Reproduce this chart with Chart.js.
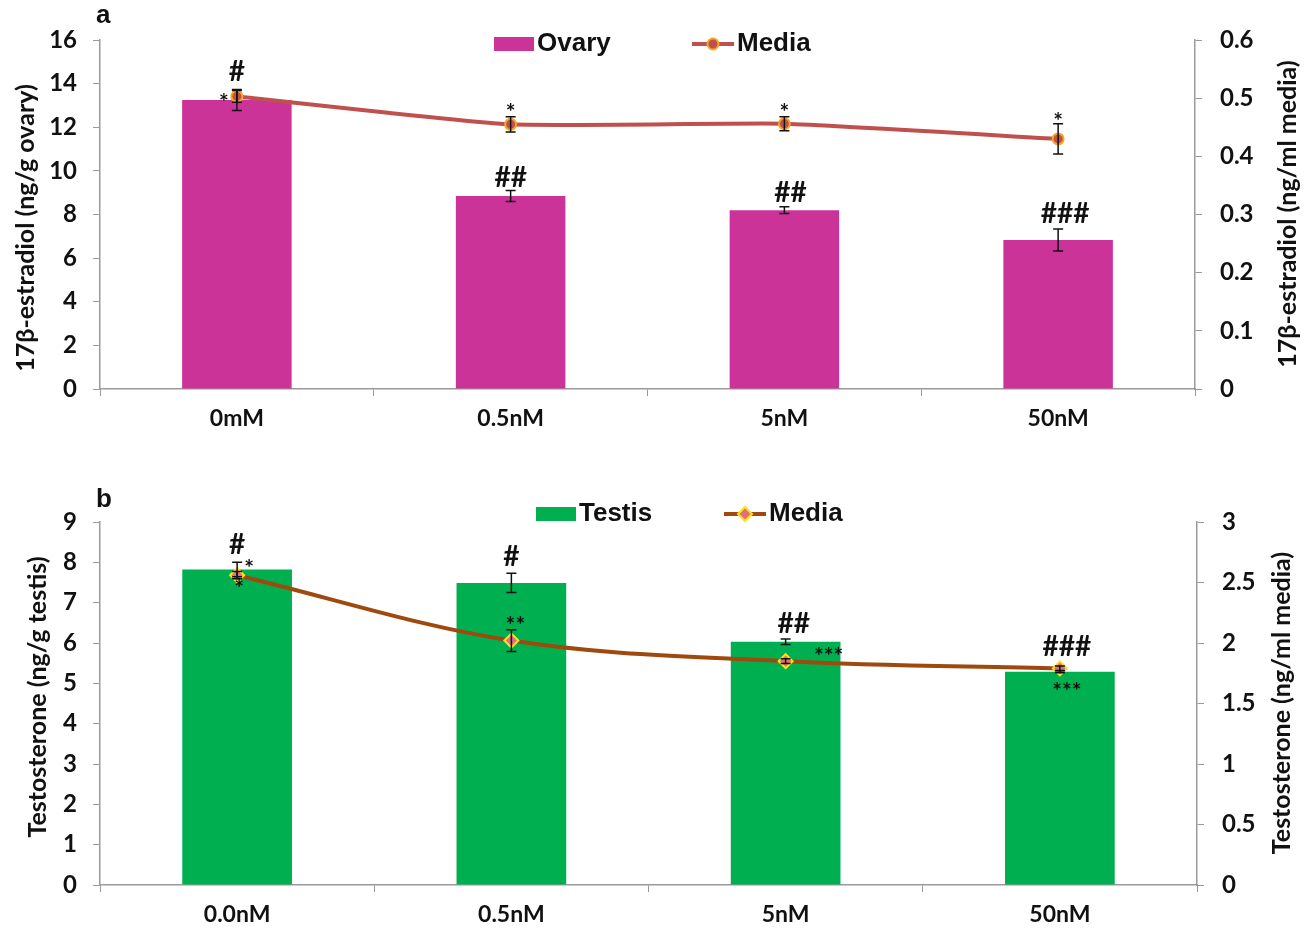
<!DOCTYPE html>
<html>
<head>
<meta charset="utf-8">
<script src="https://cdn.jsdelivr.net/npm/chart.js@4.4.1/dist/chart.umd.min.js"></script>
<style>
  html, body { margin: 0; padding: 0; background: #fff; }
  .panel { position: absolute; left: 0; }
  #panelA { top: 0; }
  #panelB { top: 460px; }
</style>
</head>
<body>
<div class="panel" id="panelA"><canvas id="chartA" width="1308" height="440"></canvas></div>
<div class="panel" id="panelB"><canvas id="chartB" width="1308" height="469"></canvas></div>
<script>
// Panel a: 17b-estradiol in ovary tissue (bars) and culture media (line)
const doseA = ['0mM', '0.5nM', '5nM', '50nM'];
const ovary = [13.25, 8.85, 8.2, 6.83];
const ovaryErr = [0.48, 0.25, 0.15, 0.5];
const mediaA = [0.503, 0.455, 0.456, 0.43];
const mediaAErr = [0.01, 0.013, 0.012, 0.026];
const ovaryMarks = ['#', '##', '##', '###'];
const mediaAMarks = ['*', '*', '*', '*'];

// Panel b: testosterone in testis tissue (bars) and culture media (line)
const doseB = ['0.0nM', '0.5nM', '5nM', '50nM'];
const testis = [7.82, 7.49, 6.03, 5.29];
const testisErr = [0.18, 0.24, 0.07, 0.03];
const mediaB = [2.56, 2.02, 1.85, 1.79];
const mediaBErr = [0.03, 0.09, 0.02, 0.02];
const testisMarks = ['#', '#', '##', '###'];
const mediaBMarks = ['*', '**', '***', '***'];

const TICK_FONT = { family: 'Lato', size: 24, weight: 'bold' };
const AXIS_GREY = '#9a9a9a';

// error bars + significance marks + legend + axis titles, all drawn on top
const extrasPlugin = {
  id: 'extras',
  afterDatasetsDraw(chart, args, opts) {
    const ctx = chart.ctx;
    const xs = chart.scales.x;
    ctx.save();
    // error bars
    opts.errors.forEach(e => {
      const ys = chart.scales[e.axis];
      e.values.forEach((v, i) => {
        const x = xs.getPixelForValue(i);
        const top = ys.getPixelForValue(v + e.err[i]);
        const bot = ys.getPixelForValue(v - e.err[i]);
        ctx.strokeStyle = '#111';
        ctx.lineWidth = 1.5;
        ctx.beginPath();
        ctx.moveTo(x, top); ctx.lineTo(x, bot);
        ctx.moveTo(x - 5, top); ctx.lineTo(x + 5, top);
        ctx.moveTo(x - 5, bot); ctx.lineTo(x + 5, bot);
        ctx.stroke();
      });
    });
    // significance marks, placed relative to the value (plus error) pixel
    opts.marks.forEach(m => {
      const ys = chart.scales[m.axis];
      const v = m.values[m.i] + (m.useErr ? m.err[m.i] : 0);
      const x = xs.getPixelForValue(m.i) + m.dx;
      const y = ys.getPixelForValue(v) + m.dy;
      const star = m.text.indexOf('*') >= 0;
      ctx.font = star ? 'bold 23px Lato' : 'bold 28px Lato';
      ctx.fillStyle = '#111';
      ctx.textAlign = 'center';
      ctx.textBaseline = 'middle';
      ctx.fillText(m.text, x, y + (star ? 6 : 0));
    });
    // legend
    const lg = opts.legend;
    ctx.font = 'bold 26px "Liberation Sans"';
    ctx.textAlign = 'left';
    ctx.textBaseline = 'middle';
    ctx.fillStyle = lg.barColor;
    ctx.fillRect(lg.barX, lg.y - 7, 40, 14);
    ctx.fillStyle = '#111';
    ctx.fillText(lg.barText, lg.barX + 43, lg.y);
    ctx.strokeStyle = lg.lineColor;
    ctx.lineWidth = 4;
    ctx.beginPath();
    ctx.moveTo(lg.lineX, lg.y); ctx.lineTo(lg.lineX + 42, lg.y);
    ctx.stroke();
    drawMarker(ctx, lg.marker, lg.lineX + 21, lg.y);
    ctx.fillStyle = '#111';
    ctx.fillText(lg.lineText, lg.lineX + 45, lg.y);
    // panel letter
    ctx.font = 'bold 26px "Liberation Sans"';
    ctx.fillText(opts.letter, 96, opts.letterY);
    // axis titles, both reading bottom to top
    ctx.font = 'bold 25px Lato';
    ctx.textAlign = 'center';
    opts.titles.forEach(t => {
      ctx.save();
      ctx.translate(t.x, t.y);
      ctx.rotate(-Math.PI / 2);
      ctx.fillText(t.text, 0, 0);
      ctx.restore();
    });
    ctx.restore();
  }
};

function drawMarker(ctx, m, x, y) {
  ctx.save();
  ctx.fillStyle = m.fill;
  ctx.strokeStyle = m.border;
  ctx.lineWidth = 2;
  ctx.beginPath();
  if (m.style === 'rectRot') {
    ctx.moveTo(x, y - 7); ctx.lineTo(x + 7, y); ctx.lineTo(x, y + 7); ctx.lineTo(x - 7, y);
    ctx.closePath();
  } else {
    ctx.arc(x, y, 5.5, 0, Math.PI * 2);
  }
  ctx.fill();
  ctx.stroke();
  ctx.restore();
}

// 0.50 -> "0.5", 3.0 -> "3", 0 -> "0"
const plainNumber = v => String(Number(v.toFixed(2)));

function makeChart(canvasId, cfg) {
  const ctx = document.getElementById(canvasId).getContext('2d');
  return new Chart(ctx, {
    type: 'bar',
    data: {
      labels: cfg.labels,
      datasets: [
        {
          type: 'line',
          label: 'Media',
          data: cfg.line,
          yAxisID: 'y1',
          borderColor: cfg.lineColor,
          borderWidth: 4,
          tension: cfg.tension,
          pointStyle: cfg.marker.style,
          pointRadius: cfg.marker.style === 'rectRot' ? 7 : 5.5,
          pointBackgroundColor: cfg.marker.fill,
          pointBorderColor: cfg.marker.border,
          pointBorderWidth: 2,
          order: 0
        },
        {
          label: cfg.barLabel,
          data: cfg.bars,
          yAxisID: 'y',
          backgroundColor: cfg.barColor,
          barPercentage: 0.4,
          categoryPercentage: 1,
          order: 1
        }
      ]
    },
    options: {
      responsive: false,
      animation: false,
      layout: { padding: { top: cfg.top, left: 0, right: 0, bottom: 0 } },
      plugins: {
        legend: { display: false },
        tooltip: { enabled: false },
        extras: cfg.extras
      },
      scales: {
        x: {
          afterFit: s => { s.height = cfg.xHeight; },
          grid: { drawOnChartArea: false, offset: true, color: AXIS_GREY, tickLength: 7 },
          border: { color: AXIS_GREY, width: 1.5 },
          ticks: { font: { family: 'Lato', size: 23, weight: 'bold' }, color: '#111', padding: 9 }
        },
        y: {
          position: 'left',
          min: 0, max: cfg.yMax,
          afterFit: s => { s.width = 100; },
          grid: { drawOnChartArea: false, color: AXIS_GREY, tickLength: 7 },
          border: { color: AXIS_GREY, width: 1.5 },
          ticks: { stepSize: cfg.yStep, font: TICK_FONT, color: '#111', padding: 16, callback: plainNumber }
        },
        y1: {
          position: 'right',
          min: 0, max: cfg.y1Max,
          afterFit: s => { s.width = cfg.rightWidth; },
          grid: { drawOnChartArea: false, color: AXIS_GREY, tickLength: 7 },
          border: { color: AXIS_GREY, width: 1.5 },
          ticks: { stepSize: cfg.y1Step, font: TICK_FONT, color: '#111', padding: 18, callback: plainNumber }
        }
      }
    },
    plugins: [extrasPlugin]
  });
}

const markerA = { style: 'circle', fill: '#C0504D', border: '#F5A623' };
const markerB = { style: 'rectRot', fill: '#E0707A', border: '#FFE11A' };

makeChart('chartA', {
  labels: doseA, bars: ovary, line: mediaA, barLabel: 'Ovary',
  barColor: '#CC3399', lineColor: '#C0504D', marker: markerA, tension: 0.15,
  top: 40, xHeight: 51, rightWidth: 113,
  yMax: 16, yStep: 2, y1Max: 0.6, y1Step: 0.1,
  extras: {
    errors: [
      { axis: 'y', values: ovary, err: ovaryErr },
      { axis: 'y1', values: mediaA, err: mediaAErr }
    ],
    marks: [
      { text: ovaryMarks[0], axis: 'y', values: ovary, err: ovaryErr, useErr: true, i: 0, dx: 0, dy: -18 },
      { text: ovaryMarks[1], axis: 'y', values: ovary, err: ovaryErr, useErr: true, i: 1, dx: 0, dy: -13 },
      { text: ovaryMarks[2], axis: 'y', values: ovary, err: ovaryErr, useErr: true, i: 2, dx: 6, dy: -14 },
      { text: ovaryMarks[3], axis: 'y', values: ovary, err: ovaryErr, useErr: true, i: 3, dx: 7, dy: -15 },
      { text: mediaAMarks[0], axis: 'y1', values: mediaA, err: mediaAErr, useErr: false, i: 0, dx: -13, dy: 0 },
      { text: mediaAMarks[1], axis: 'y1', values: mediaA, err: mediaAErr, useErr: true, i: 1, dx: 0, dy: -10 },
      { text: mediaAMarks[2], axis: 'y1', values: mediaA, err: mediaAErr, useErr: true, i: 2, dx: 0, dy: -10 },
      { text: mediaAMarks[3], axis: 'y1', values: mediaA, err: mediaAErr, useErr: true, i: 3, dx: 0, dy: -8 }
    ],
    legend: { y: 44, barX: 494, barText: 'Ovary', barColor: '#CC3399', lineX: 692, lineText: 'Media', lineColor: '#C0504D', marker: markerA },
    letter: 'a', letterY: 16,
    titles: [
      { text: '17β-estradiol (ng/g ovary)', x: 26, y: 228 },
      { text: '17β-estradiol (ng/ml media)', x: 1288, y: 214 }
    ]
  }
});

makeChart('chartB', {
  labels: doseB, bars: testis, line: mediaB, barLabel: 'Testis',
  barColor: '#00B050', lineColor: '#9E4A0E', marker: markerB, tension: 0.35,
  top: 62, xHeight: 44, rightWidth: 111,
  yMax: 9, yStep: 1, y1Max: 3, y1Step: 0.5,
  extras: {
    errors: [
      { axis: 'y', values: testis, err: testisErr },
      { axis: 'y1', values: mediaB, err: mediaBErr }
    ],
    marks: [
      { text: testisMarks[0], axis: 'y', values: testis, err: testisErr, useErr: true, i: 0, dx: 0, dy: -17 },
      { text: testisMarks[1], axis: 'y', values: testis, err: testisErr, useErr: true, i: 1, dx: 0, dy: -16 },
      { text: testisMarks[2], axis: 'y', values: testis, err: testisErr, useErr: true, i: 2, dx: 8, dy: -15 },
      { text: testisMarks[3], axis: 'y', values: testis, err: testisErr, useErr: true, i: 3, dx: 7, dy: -23 },
      { text: mediaBMarks[0], axis: 'y1', values: mediaB, err: mediaBErr, useErr: false, i: 0, dx: 12, dy: -13 },
      { text: mediaBMarks[0], axis: 'y1', values: mediaB, err: mediaBErr, useErr: false, i: 0, dx: 2, dy: 7 },
      { text: mediaBMarks[1], axis: 'y1', values: mediaB, err: mediaBErr, useErr: false, i: 1, dx: 4, dy: -21 },
      { text: mediaBMarks[2], axis: 'y1', values: mediaB, err: mediaBErr, useErr: false, i: 2, dx: 43, dy: -11 },
      { text: mediaBMarks[3], axis: 'y1', values: mediaB, err: mediaBErr, useErr: false, i: 3, dx: 7, dy: 17 }
    ],
    legend: { y: 54, barX: 536, barText: 'Testis', barColor: '#00B050', lineX: 724, lineText: 'Media', lineColor: '#9E4A0E', marker: markerB },
    letter: 'b', letterY: 40,
    titles: [
      { text: 'Testosterone (ng/g testis)', x: 38, y: 237 },
      { text: 'Testosterone (ng/ml media)', x: 1282, y: 243 }
    ]
  }
});
</script>
</body>
</html>
